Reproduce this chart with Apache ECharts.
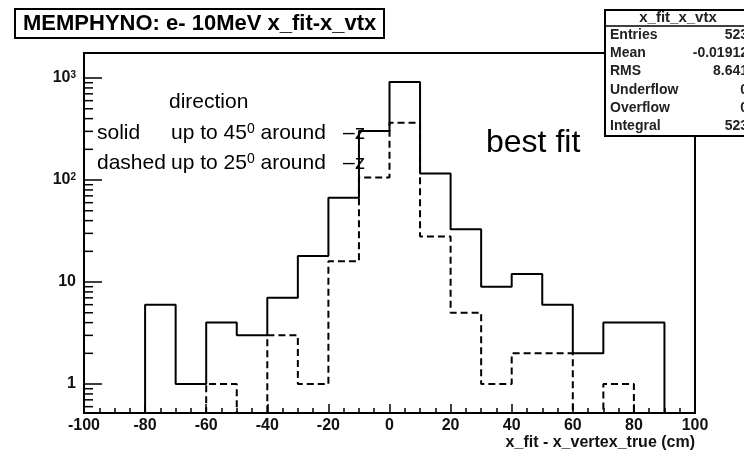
<!DOCTYPE html>
<html><head><meta charset="utf-8">
<script src="https://cdn.jsdelivr.net/npm/echarts@6/dist/echarts.min.js"></script>
<style>html,body{margin:0;padding:0;background:#fff}#c{width:744px;height:451px}</style>
</head><body><div id="c"></div>
<script>
// ---- data ----
const binEdges = [-100,-90,-80,-70,-60,-50,-40,-30,-20,-10,0,10,20,30,40,50,60,70,80,90,100];
const solidCounts  = [0,0,6,1,4,3,7,18,67,302,916,116,33,9,12,6,2,4,4,0];
const dashedCounts = [0,0,0,0,1,0,3,1,16,106,364,28,5,1,2,2,0,1,0,0];
const xTickValues = [-100,-80,-60,-40,-20,0,20,40,60,80,100];
const yTickValues = [1,10,100,1000];
const yTickLabels = ['1','10','{b|10}{s|2}','{b|10}{s|3}'];
const yMinorTicks = [0.6,0.7,0.8,0.9,2,3,4,5,6,7,8,9,20,30,40,50,60,70,80,90,200,300,400,500,600,700,800,900];
const statNames  = ['Entries','Mean','RMS','Underflow','Overflow','Integral'];
const statValues = ['523','-0.01912','8.641','0','0','523'];
const yMin = 0.52, yMax = 1760;

function histPoints(counts){
  const pts = [];
  for (let i = 0; i < counts.length; i++) pts.push([binEdges[i], counts[i] > 0 ? counts[i] : yMin]);
  const last = counts[counts.length-1];
  pts.push([binEdges[binEdges.length-1], last > 0 ? last : yMin]);
  return pts;
}

const chart = echarts.init(document.getElementById('c'), null, {renderer:'canvas'});
const FONT = 'Liberation Sans, Arial, Helvetica, sans-serif';
const gL = 84, gT = 53, gR = 695, gB = 413;

const statGraphics = [];
statGraphics.push({type:'rect', z:100, shape:{x:605, y:10, width:150, height:126}, style:{fill:'#fff', stroke:'#000', lineWidth:2}});
statGraphics.push({type:'line', z:101, shape:{x1:605, y1:26, x2:755, y2:26}, style:{stroke:'#000', lineWidth:1.5}});
statGraphics.push({type:'text', z:102, x:678, y:17.5, style:{text:'x_fit_x_vtx', font:'bold 15px '+FONT, fill:'#222', align:'center', verticalAlign:'middle'}});
statNames.forEach((n,i)=>{
  const y = 35 + i*18.3;
  statGraphics.push({type:'text', z:102, x:610, y:y, style:{text:n, font:'bold 14px '+FONT, fill:'#222', align:'left', verticalAlign:'middle'}});
  statGraphics.push({type:'text', z:102, x:748, y:y, style:{text:statValues[i], font:'bold 14px '+FONT, fill:'#222', align:'right', verticalAlign:'middle'}});
});

const annRich = {s:{fontSize:14, fontFamily:FONT, verticalAlign:'top'}};
const annFont = '21px '+FONT;

const option = {
  animation:false,
  backgroundColor:'#fff',
  grid:{left:gL, top:gT, width:gR-gL, height:gB-gT, show:true, borderColor:'#000', borderWidth:2, backgroundColor:'transparent'},
  xAxis:{
    type:'value', min:-100, max:100, interval:20,
    axisLine:{show:true, onZero:false, lineStyle:{color:'#000', width:2}},
    axisTick:{show:true, inside:true, length:9, lineStyle:{color:'#000', width:1.5}},
    minorTick:{show:true, splitNumber:4, length:5, lineStyle:{color:'#000', width:1.5}},
    splitLine:{show:false}, minorSplitLine:{show:false},
    axisLabel:{margin:5, color:'#111', fontWeight:'bold', fontSize:16, fontFamily:FONT,
      formatter:(v)=> xTickValues.indexOf(v) >= 0 ? String(v) : ''}
  },
  yAxis:{
    type:'log', logBase:10, min:yMin, max:yMax,
    axisLine:{show:true, onZero:false, lineStyle:{color:'#000', width:2}},
    axisTick:{show:true, inside:true, length:18, lineStyle:{color:'#000', width:1.5}},
    splitLine:{show:false},
    axisLabel:{margin:8, color:'#111', fontWeight:'bold', fontSize:16, fontFamily:FONT,
      showMinLabel:false, showMaxLabel:false,
      formatter:(v)=>{ const k = yTickValues.findIndex(t=>Math.abs(t-v)/t < 1e-6); return k>=0 ? yTickLabels[k] : ''; },
      rich:{b:{fontWeight:'bold', fontSize:16, fontFamily:FONT, color:'#111'},
            s:{fontWeight:'bold', fontSize:10, fontFamily:FONT, color:'#111', verticalAlign:'top'}}}
  },
  series:[
    {type:'line', step:'end', data:histPoints(solidCounts), symbol:'none', clip:false, z:5,
      lineStyle:{color:'#000', width:2}},
    {type:'line', step:'end', data:histPoints(dashedCounts), symbol:'none', clip:false, z:5,
      lineStyle:{color:'#000', width:2, type:[7,4]}},
    {type:'custom', coordinateSystem:'cartesian2d', silent:true, clip:false, z:6,
      data:yMinorTicks.map(v=>[-100, v]), encode:{x:0, y:1},
      renderItem:(params, api)=>{
        const p = api.coord([-100, api.value(1)]);
        return {type:'line', shape:{x1:p[0], y1:p[1], x2:p[0]+9, y2:p[1]}, style:{stroke:'#000', lineWidth:1.5}};
      }}
  ],
  graphic:[
    {type:'rect', z:100, shape:{x:15, y:9, width:369, height:29}, style:{fill:'#fff', stroke:'#000', lineWidth:2}},
    {type:'text', z:101, x:23, y:23.5, style:{text:'MEMPHYNO: e- 10MeV x_fit-x_vtx', font:'bold 22px '+FONT, fill:'#000', align:'left', verticalAlign:'middle'}},
    {type:'text', z:50, x:695, y:443, style:{text:'x_fit - x_vertex_true (cm)', font:'bold 16px '+FONT, fill:'#111', align:'right', verticalAlign:'middle'}},
    {type:'text', z:50, x:169, y:102, style:{text:'direction', font:annFont, fill:'#000', verticalAlign:'middle'}},
    {type:'text', z:50, x:97, y:133, style:{text:'solid', font:annFont, fill:'#000', verticalAlign:'middle'}},
    {type:'text', z:50, x:171, y:133, style:{text:'up to 45{s|0} around', font:annFont, fill:'#000', verticalAlign:'middle', rich:annRich}},
    {type:'text', z:50, x:343, y:133, style:{text:'\u2013z', font:annFont, fill:'#000', verticalAlign:'middle'}},
    {type:'text', z:50, x:97, y:163, style:{text:'dashed', font:annFont, fill:'#000', verticalAlign:'middle'}},
    {type:'text', z:50, x:171, y:163, style:{text:'up to 25{s|0} around', font:annFont, fill:'#000', verticalAlign:'middle', rich:annRich}},
    {type:'text', z:50, x:343, y:163, style:{text:'\u2013z', font:annFont, fill:'#000', verticalAlign:'middle'}},
    {type:'text', z:50, x:486, y:143, style:{text:'best fit', font:'32px '+FONT, fill:'#000', verticalAlign:'middle'}}
  ].concat(statGraphics)
};
chart.setOption(option);
</script>
</body></html>
